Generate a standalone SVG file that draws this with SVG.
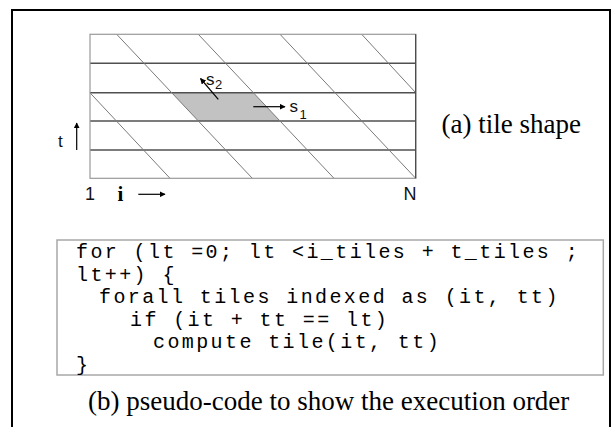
<svg xmlns="http://www.w3.org/2000/svg" width="612" height="427" viewBox="0 0 612 427">
  <style>
    .frame { fill: none; stroke: #000; stroke-width: 2; }
    .edge { fill: none; stroke: #9a9a9a; stroke-width: 1.2; }
    .row { stroke: #505050; stroke-width: 1.4; }
    .diag { stroke: #7a7a7a; stroke-width: 1; }
    .tile { fill: #c2c2c2; }
    .vec { stroke: #000; stroke-width: 1.2; fill: none; marker-end: url(#head); }
    .sans { font-family: "Liberation Sans", Arial, sans-serif; fill: #111; }
    .serif { font-family: "Liberation Serif", "Times New Roman", serif; fill: #000; }
    .code { font-family: "Liberation Mono", "Courier New", monospace; font-size: 20px; letter-spacing: 2.4px; fill: #000; white-space: pre; }
    .codebox { fill: none; stroke: #a8a8a8; stroke-width: 1.5; }
  </style>
  <defs>
    <marker id="head" viewBox="0 0 10 10" refX="9" refY="5" markerWidth="6" markerHeight="6" orient="auto" markerUnits="userSpaceOnUse">
      <path d="M0,0 L10,5 L0,10 Z" fill="#000"/>
    </marker>
  </defs>

  <!-- outer frame (bottom edge lies below the page) -->
  <rect class="frame" x="12" y="10" width="598" height="440"/>

  <!-- (a) iteration space with skewed tiles -->
  <g id="tile-grid">
    <polygon class="tile" points="171.7,92.7 253.3,92.7 280,121 198.3,121"/>
    <g id="rows">
      <line class="row" x1="90" y1="63.3" x2="415.7" y2="63.3"/>
      <line class="row" x1="90" y1="92.7" x2="415.7" y2="92.7"/>
      <line class="row" x1="90" y1="121" x2="415.7" y2="121"/>
      <line class="row" x1="90" y1="150" x2="415.7" y2="150"/>
    </g>
    <g id="skews">
      <line class="diag" x1="90" y1="92.8" x2="170" y2="178.3"/>
      <line class="diag" x1="116.7" y1="34.3" x2="252.3" y2="178.3"/>
      <line class="diag" x1="198.3" y1="34.3" x2="334" y2="178.3"/>
      <line class="diag" x1="280" y1="34.3" x2="415.7" y2="178.3"/>
      <line class="diag" x1="361.7" y1="34.3" x2="415.7" y2="92.7"/>
    </g>
    <rect class="edge" x="90" y="34.3" width="325.7" height="144"/>
    <line x1="415.7" y1="34.3" x2="415.7" y2="178.3" stroke="#444" stroke-width="1.2"/>
  </g>

  <g id="vectors">
    <line class="vec" x1="253.3" y1="106.7" x2="285" y2="106.7"/>
    <line class="vec" x1="218.3" y1="99.3" x2="200.5" y2="78.5"/>
    <line class="vec" x1="76.7" y1="150" x2="76.7" y2="123"/>
    <line class="vec" x1="138.3" y1="194.3" x2="165" y2="194.3"/>
  </g>

  <g id="axis-labels">
    <text class="sans" x="289.5" y="111.7" font-size="17">s</text>
    <text class="sans" x="299.5" y="119.3" font-size="13">1</text>
    <text class="sans" x="206" y="85" font-size="17">s</text>
    <text class="sans" x="215" y="88.5" font-size="13">2</text>
    <text class="sans" x="58" y="146.7" font-size="17">t</text>
    <text class="sans" x="85" y="200" font-size="18">1</text>
    <text class="serif" x="117.5" y="200.5" font-size="21" font-weight="bold">i</text>
    <text class="sans" x="403.5" y="200" font-size="18">N</text>
  </g>

  <g id="caption-a">
    <text class="serif" x="441.5" y="133.3" font-size="27">(a) tile shape</text>
  </g>

  <!-- (b) wavefront loop over tiles -->
  <g id="code-block">
    <rect class="codebox" x="57" y="240" width="546.3" height="135"/>
    <text class="code" x="76" y="258">for (lt =0; lt &lt;i_tiles + t_tiles ;</text>
    <text class="code" x="76" y="280.6">lt++) {</text>
    <text class="code" x="99" y="303.2">forall tiles indexed as (it, tt)</text>
    <text class="code" x="130" y="325.8">if (it + tt == lt)</text>
    <text class="code" x="153" y="348.4">compute tile(it, tt)</text>
    <text class="code" x="76" y="371">}</text>
  </g>

  <g id="caption-b">
    <text class="serif" x="88" y="410" font-size="27">(b) pseudo-code to show the execution order</text>
  </g>
</svg>
